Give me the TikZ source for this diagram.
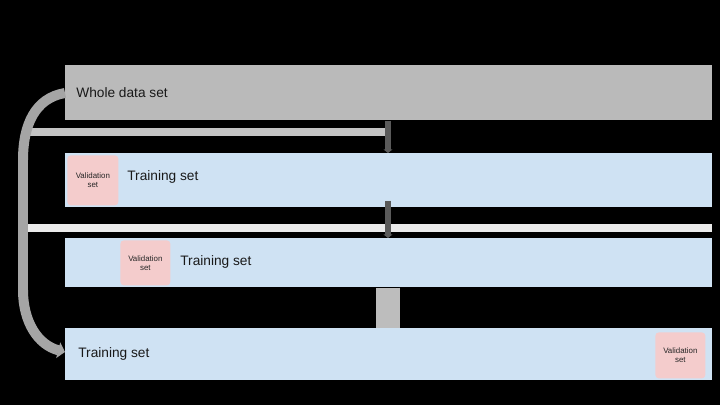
\documentclass[tikz,border=0pt]{standalone}
\usepackage{fontspec}
\setmainfont{Liberation Sans}
\usetikzlibrary{arrows.meta,calc}
\definecolor{wholegray}{HTML}{BABABA}
\definecolor{trainblue}{HTML}{CFE2F3}
\definecolor{valpink}{HTML}{F4CCCC}
\definecolor{arrdark}{HTML}{5A5A5A}
\definecolor{curvegray}{HTML}{A5A5A5}
\definecolor{stepgray}{HTML}{BDBDBD}
\tikzset{
    bar/.style = {rectangle, inner sep=0pt, anchor=north west,
        minimum width=12.94cm},
    valbox/.style = {rectangle, fill=valpink, rounded corners=2pt,
        inner sep=0pt, anchor=north west, align=center,
        font=\fontsize{4.5}{5.2}\selectfont, text=black!85},
    lbl/.style = {anchor=west, inner sep=0pt,
        font=\fontsize{7.8}{9}\selectfont, text=black!90},
    arr/.style = {draw=arrdark, line width=3.2pt,
        -{Triangle[length=2pt,width=5pt]}},
    strip/.style = {inner sep=0pt, anchor=north west}
}

\begin{document}
\begin{tikzpicture}[x=0.02cm, y=-0.02cm]
    \fill[black] (0,0) rectangle (720,405);
    \useasboundingbox (0,0) rectangle (720,405);
    % stray bands between the bars
    \node [strip, fill=wholegray!85, minimum width=7.2cm, minimum height=0.16cm] (band1) at (25,128) {};
    \node [strip, fill=white!92!black, minimum width=13.76cm, minimum height=0.16cm] (band2) at (24,224) {};
    % bars
    \node [bar, fill=wholegray, minimum height=1.1cm] (whole) at (65,65) {};
    \node [lbl] (wholetxt) at (76,93) {Whole data set};
    \node [bar, fill=trainblue, minimum height=1.08cm] (train1) at (65,153) {};
    \node [valbox, minimum width=1.02cm, minimum height=1cm] (val1) at (67,155) {Validation\\set};
    \node [lbl] (train1txt) at (127,177) {Training set};
    \node [bar, fill=trainblue, minimum height=0.98cm] (train2) at (65,238) {};
    \node [valbox, minimum width=1cm, minimum height=0.9cm] (val2) at (120,240) {Validation\\set};
    \node [lbl] (train2txt) at (180,262) {Training set};
    \node [bar, fill=trainblue, minimum height=1.04cm] (train3) at (65,328) {};
    \node [valbox, minimum width=1cm, minimum height=0.92cm] (val3) at (655,332) {Validation\\set};
    \node [lbl] (train3txt) at (78,354) {Training set};
    % steps
    \coordinate (mid) at (388,0);
    \draw [arr] (whole.south -| mid) -- (train1.north -| mid);
    \draw [arr] ($(train1.south -| mid)+(0,-7)$) -- (train2.north -| mid);
    \draw [stepgray, line width=0.48cm] (train2.south -| mid) -- (train3.north -| mid);
    % loop back
    \draw [curvegray, line width=0.2cm, -{Triangle[length=4pt,width=9pt]}]
        (whole.west |- wholetxt) .. controls (35,98) and (23,125) .. (23,160)
        -- (23,290) .. controls (23,322) and (38,345) .. (train3.west |- 0,352);
\end{tikzpicture}
\end{document}
